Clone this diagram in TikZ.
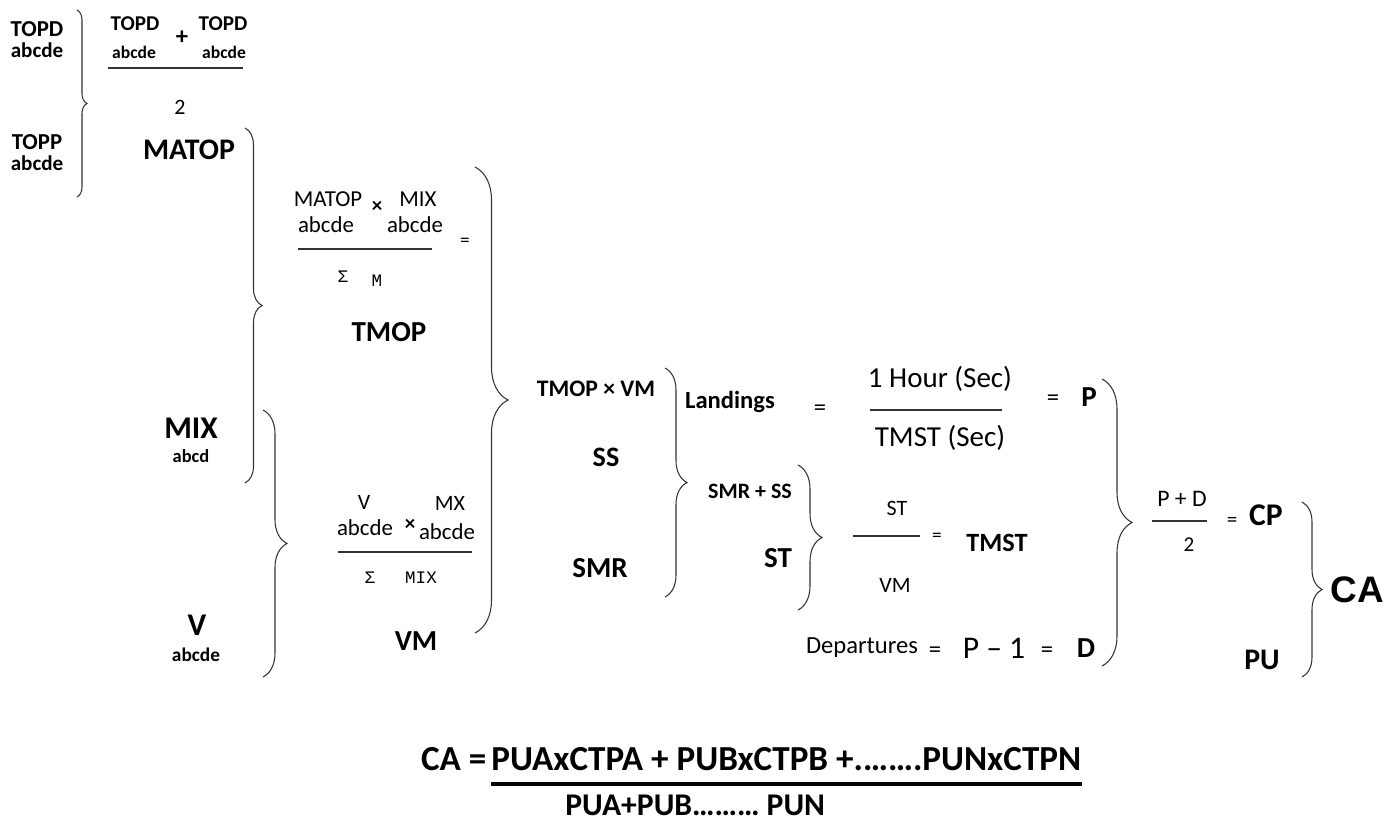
\documentclass[tikz,border=0pt]{standalone}
\usepackage{fontspec}
\setmainfont{Carlito}
\newfontfamily\monofont{Liberation Mono}
\newfontfamily\arialfont{Liberation Sans}
\usetikzlibrary{positioning,decorations.pathreplacing}

\begin{document}
\begin{tikzpicture}[x=0.02cm, y=-0.02cm,
  txt/.style={inner sep=0pt, font=\fontsize{#1}{#1}\selectfont},
  btxt/.style={inner sep=0pt, font=\fontsize{#1}{#1}\selectfont\bfseries},
  mono/.style={inner sep=0pt, font=\fontsize{#1}{#1}\selectfont\monofont},
  brc/.style={decorate, decoration={brace, amplitude=#1}, draw=black!80, line width=0.6pt},
  fracbar/.style={draw=black!80, line width=0.6pt},
  ubar/.style={draw=black, line width=2.5pt}
]
  \useasboundingbox (0,0) rectangle (1398,825);

  % left column
  \node[btxt=13] (topd) at (37,29) {TOPD};
  \node[btxt=12, below=3pt of topd] (topdsub) {abcde};
  \node[btxt=13] (topp) at (37,142) {TOPP};
  \node[btxt=12, below=3pt of topp] (toppsub) {abcde};

  \node[btxt=12] (numa) at (135,24) {TOPD};
  \node[btxt=10] (numasub) at (134,52) {abcde};
  \node[btxt=14] (plus) at (182,38) {+};
  \node[btxt=12] (numb) at (223,24) {TOPD};
  \node[btxt=10] (numbsub) at (224,52) {abcde};
  \draw[fracbar] (108,68) -- (243,68);
  \node[txt=12.5] (two) at (180,107) {2};
  \node[btxt=17] (matop) at (189,150) {MATOP};

  \node[btxt=18] (mix) at (191,428) {MIX};
  \node[btxt=10.5] (mixsub) at (191,456) {abcd};
  \node[btxt=18] (v) at (197,625) {V};
  \node[btxt=11] (vsub) at (196,655) {abcde};

  % TMOP fraction
  \node[txt=13] (fmatop) at (328,199) {MATOP};
  \node[txt=13] (fmatopsub) at (326,225) {abcde};
  \node[btxt=12] (times) at (377,207) {×};
  \node[txt=13] (fmix) at (418,199) {MIX};
  \node[txt=13] (fmixsub) at (415,225) {abcde};
  \draw[fracbar] (298,249) -- (432,249);
  \node[txt=11] (eqm) at (465,242) {=};
  \node[mono=10] (sig) at (343,277) {Σ};
  \node[mono=10] (sigm) at (377,281) {M};
  \node[btxt=16.5] (tmop) at (389,332) {TMOP};

  % VM fraction
  \node[txt=12.5] (fv) at (364,502) {V};
  \node[txt=13] (fvsub) at (365,528) {abcde};
  \node[btxt=12] (times2) at (410,525) {×};
  \node[txt=12.5] (fmx) at (450,503) {MX};
  \node[txt=13] (fmxsub) at (447,532) {abcde};
  \draw[fracbar] (338,552) -- (472,552);
  \node[mono=10] (sig2) at (370,578) {Σ};
  \node[mono=10] (sigmix) at (421,578) {MIX};
  \node[btxt=16.5] (vm) at (416,641) {VM};

  % middle
  \node[btxt=13.5] (tmopvm) at (596,389) {TMOP × VM};
  \node[btxt=16] (ss) at (606,457) {SS};
  \node[btxt=16.5] (smr) at (600,568) {SMR};
  \node[btxt=14] (landings) at (730,402) {Landings};
  \node[txt=14] (eql) at (820,410) {=};
  \node[txt=16.5] (hour) at (940,379) {1 Hour (Sec)};
  \draw[fracbar] (870,410) -- (1002,410);
  \node[txt=16.5] (tmstsec) at (940,438) {TMST (Sec)};
  \node[txt=14] (eqp) at (1053,400) {=};
  \node[btxt=16.5] (p) at (1089,397) {P};
  \node[btxt=12.5] (smrss) at (750,491) {SMR + SS};
  \node[btxt=16.5] (st) at (778,558) {ST};
  \node[txt=12.5] (fst) at (897,508) {ST};
  \draw[fracbar] (853,536) -- (920,536);
  \node[txt=12.5] (fvm) at (895,585) {VM};
  \node[txt=11] (eqt) at (937,537) {=};
  \node[btxt=15] (tmst) at (997,543) {TMST};
  \node[txt=14] (dep) at (862,648) {Departures};
  \node[txt=14] (eqd1) at (935,652) {=};
  \node[txt=18] (pm1) at (994,648) {P – 1};
  \node[txt=14] (eqd2) at (1047,652) {=};
  \node[btxt=16.5] (d) at (1086,648) {D};

  % right
  \node[txt=13.5] (pd) at (1182,499) {P + D};
  \draw[fracbar] (1152,521) -- (1207,521);
  \node[txt=12] (two2) at (1189,545) {2};
  \node[txt=12] (eqc) at (1232,522) {=};
  \node[btxt=18] (cp) at (1266,515) {CP};
  \node[btxt=17] (pu) at (1262,660) {PU};
  \node[inner sep=0pt, font=\fontsize{21}{21}\selectfont\arialfont\bfseries] (ca) at (1357,590) {CA};

  % braces
  \coordinate (b1t) at (77,10);    \coordinate (b1b) at (77,197);
  \coordinate (b2t) at (245,128);  \coordinate (b2b) at (245,483);
  \coordinate (b3t) at (475,167);  \coordinate (b3b) at (475,633);
  \coordinate (b4t) at (263,410);  \coordinate (b4b) at (263,677);
  \coordinate (b5t) at (665,368);  \coordinate (b5b) at (665,597);
  \coordinate (b6t) at (798,465);  \coordinate (b6b) at (798,610);
  \coordinate (b7t) at (1102,379); \coordinate (b7b) at (1102,666);
  \coordinate (b8t) at (1302,502); \coordinate (b8b) at (1302,677);
  \draw[brc=0.2cm] (b1t) -- (b1b);
  \draw[brc=0.34cm] (b2t) -- (b2b);
  \draw[brc=0.66cm] (b3t) -- (b3b);
  \draw[brc=0.48cm] (b4t) -- (b4b);
  \draw[brc=0.44cm] (b5t) -- (b5b);
  \draw[brc=0.48cm] (b6t) -- (b6b);
  \draw[brc=0.6cm] (b7t) -- (b7b);
  \draw[brc=0.4cm] (b8t) -- (b8b);

  % bottom formula
  \node[btxt=20, anchor=base west] (canum) at (491,770) {PUAxCTPA + PUBxCTPB +.…….PUNxCTPN};
  \node[btxt=20, anchor=base east] (calhs) at (canum.base west) {CA =\kern0.12em};
  \draw[ubar] (canum.west |- 0,784) -- (canum.east |- 0,784);
  \node[btxt=18, anchor=base west] (caden) at (565,815) {PUA+PUB……… PUN};
\end{tikzpicture}
\end{document}
